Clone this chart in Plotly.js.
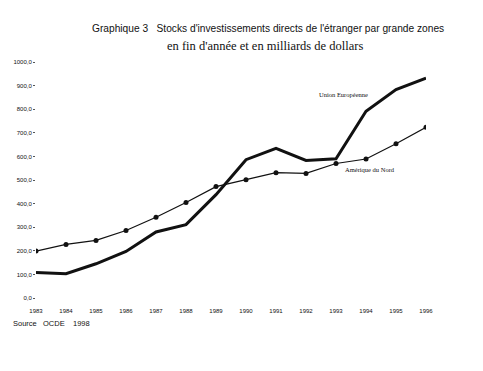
<!DOCTYPE html>
<html>
<head>
<meta charset="utf-8">
<script src="https://cdn.plot.ly/plotly-3.0.1.min.js"></script>
<style>html,body{margin:0;padding:0;background:#fff;}#chart{width:483px;height:371px;}</style>
</head>
<body>
<div id="chart"></div>
<script>
const years = [1983,1984,1985,1986,1987,1988,1989,1990,1991,1992,1993,1994,1995,1996];
const unionEuropeenne = [108,103,145,197,280,311,438,586,634,583,590,791,883,932];
const ameriqueDuNord = [199,227,244,286,342,405,472,501,531,528,570,589,654,723];
const yTickVals = [0,100,200,300,400,500,600,700,800,900,1000];
const yTickText = ["0,0","100,0","200,0","300,0","400,0","500,0","600,0","700,0","800,0","900,0","1000,0"];
const xTickText = years.map(String);

const W = 483, H = 371, L = 36, R = 57, T = 62, B = 73;
const pw = W - L - R, ph = H - T - B;
const px = x => (x - L) / pw;
const py = y => (H - B - y) / ph;

const traces = [
  {x: years, y: unionEuropeenne, type: 'scatter', mode: 'lines', name: 'Union Européenne',
   line: {color: '#111', width: 3}},
  {x: years, y: ameriqueDuNord, type: 'scatter', mode: 'lines+markers', name: 'Amérique du Nord',
   line: {color: '#111', width: 1.2}, marker: {color: '#111', size: 5}}
];

const ann = (text, x, y, size, family, xanchor) => ({
  text, xref: 'paper', yref: 'paper', x: px(x), y: py(y), showarrow: false,
  xanchor: xanchor || 'center', yanchor: 'middle',
  font: {family, size, color: '#111'}
});

const sans = 'Liberation Sans, Arial, sans-serif';
const serif = 'Liberation Serif, Times New Roman, serif';

const layout = {
  width: W, height: H,
  margin: {l: L, r: R, t: T, b: B},
  paper_bgcolor: '#fff', plot_bgcolor: '#fff',
  showlegend: false,
  font: {family: sans, color: '#111'},
  xaxis: {range: [1983, 1996], tickvals: years, ticktext: xTickText, showgrid: false, zeroline: false,
          showline: false, ticks: '', ticklabelstandoff: 8, tickfont: {size: 6, color: '#111'}},
  yaxis: {range: [0, 1000], tickvals: yTickVals, ticktext: yTickText, showgrid: false, zeroline: false,
          showline: false, ticks: 'outside', ticklen: 2, tickcolor: '#555', tickfont: {size: 6, color: '#111'}},
  annotations: [
    ann("Graphique 3   Stocks d'investissements directs de l'étranger par grande zones", 268, 29, 10.2, sans),
    ann("en fin d'année et en milliards de dollars", 265, 46, 12.5, serif),
    ann("Union Européenne", 343, 94, 6.5, serif),
    ann("Amérique du Nord", 370, 169, 6.5, serif),
    ann("Source   OCDE    1998", 11, 323, 7.5, sans, 'left')
  ]
};

Plotly.newPlot('chart', traces, layout, {displayModeBar: false, staticPlot: true});
</script>
</body>
</html>
